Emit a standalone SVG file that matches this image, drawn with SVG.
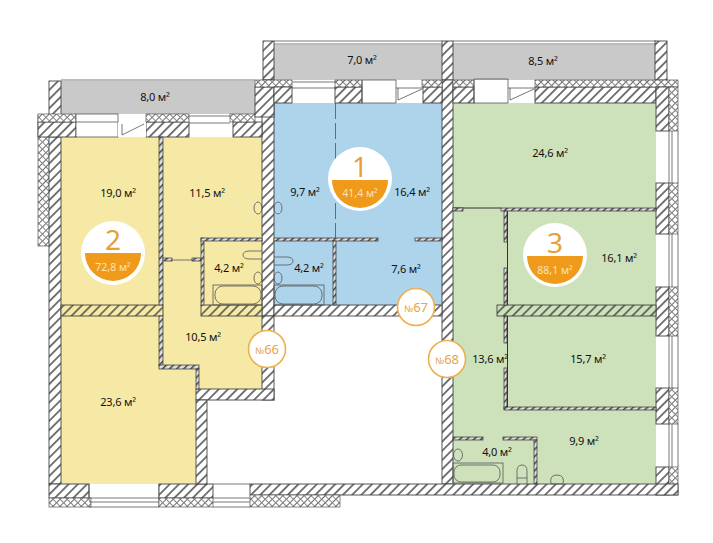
<svg xmlns="http://www.w3.org/2000/svg" width="713" height="543" viewBox="0 0 713 543">
<style>
.l{font-family:"Noto Sans","Open Sans",sans-serif;font-size:11px;fill:#111;text-anchor:middle;letter-spacing:-.2px}
.w{fill:url(#h);stroke:#444;stroke-width:.9}
.wy{fill:url(#hy);stroke:#444;stroke-width:.9}
.wg{fill:url(#hg);stroke:#444;stroke-width:.9}
.b{fill:url(#br);stroke:#555;stroke-width:.7}
.t{fill:url(#th);stroke:#333;stroke-width:.7}
.g{fill:#fff;stroke:#555;stroke-width:.8}
.f{fill:none;stroke:#555;stroke-width:.8}
.n{fill:#fff;stroke:#ecb04e;stroke-width:1.6}
.nt{font-family:"Noto Sans","Open Sans",sans-serif;fill:#e7a445;text-anchor:middle}
.big{font-family:"Noto Sans","Open Sans",sans-serif;font-size:28px;fill:#e8a035;text-anchor:middle}
.ar{font-family:"Noto Sans","Open Sans",sans-serif;font-size:10.500px;fill:#fbe3b8;text-anchor:middle}
</style>
<defs>
<pattern id="h" width="6.500" height="6.500" patternUnits="userSpaceOnUse" patternTransform="rotate(45)"><rect width="6.500" height="6.500" fill="#fff"/><rect width="1.800" height="6.500" fill="#6a6a6a"/></pattern>
<pattern id="hy" width="6.500" height="6.500" patternUnits="userSpaceOnUse" patternTransform="rotate(45)"><rect width="6.500" height="6.500" fill="#f5e9a5"/><rect width="1.800" height="6.500" fill="#6a6a5a"/></pattern>
<pattern id="hg" width="6.500" height="6.500" patternUnits="userSpaceOnUse" patternTransform="rotate(45)"><rect width="6.500" height="6.500" fill="#cde1ba"/><rect width="1.800" height="6.500" fill="#5a6a5a"/></pattern>
<pattern id="th" width="5" height="5" patternUnits="userSpaceOnUse" patternTransform="rotate(45)"><rect width="5" height="5" fill="#ddd"/><rect width="1.500" height="5" fill="#444"/></pattern>
<pattern id="br" width="5" height="5" patternUnits="userSpaceOnUse" patternTransform="rotate(45)"><rect width="5" height="5" fill="#fff"/><rect width="1" height="5" fill="#666"/><rect width="5" height="1" fill="#888"/></pattern>
</defs>
<rect width="713" height="543" fill="#fff"/>
<!-- balconies -->
<rect x="61" y="81" width="194" height="33" fill="#c9c9c9"/>
<rect x="274" y="45" width="168" height="35" fill="#c9c9c9"/>
<rect x="453" y="45" width="203" height="35" fill="#c9c9c9"/>
<path class="f" d="M61 80H255M274 41H442M274 44H442M453 41H656M453 44H656" stroke-width="1"/>
<!-- rooms -->
<path fill="#f5e9a5" d="M61 137H262V389H196V484H61Z"/>
<rect x="274" y="103" width="168" height="202" fill="#aed4ec"/>
<rect x="453" y="103" width="203" height="381" fill="#cde1ba"/>
<!-- outer walls -->
<g id="walls">
<rect class="w" x="49" y="81" width="12" height="34"/>
<rect class="w" x="263" y="41" width="11" height="39"/>
<rect class="w" x="442" y="41" width="11" height="39"/>
<rect class="w" x="655" y="41" width="12" height="39"/>
<rect class="b" x="38" y="115" width="12" height="131"/>
<rect class="w" x="49" y="137" width="12" height="347"/>
<rect class="w" x="262" y="80" width="12" height="236"/>
<rect class="w" x="262" y="316" width="12" height="84"/>
<rect class="w" x="442" y="80" width="11" height="404"/>
<!-- top, yellow -->
<rect class="w" x="38" y="122" width="38" height="15"/>
<rect class="w" x="146" y="122" width="43" height="15"/>
<rect class="w" x="233" y="122" width="29" height="15"/>
<rect class="b" x="38" y="114" width="38" height="8"/>
<rect class="b" x="146" y="114" width="43" height="8"/>
<rect class="b" x="230" y="114" width="25" height="8"/>
<rect class="g" x="76" y="114" width="42" height="23"/>
<rect x="118" y="122" width="28" height="15" fill="#fff"/>
<path class="f" d="M76 122H118M189 116H230M189 123H230M122 135L144 124M122 124V135"/>
<rect class="w" x="255" y="87" width="19" height="30"/>
<rect class="b" x="255" y="80" width="37" height="7"/>
<!-- top, blue -->
<rect class="w" x="274" y="87" width="18" height="16"/>
<rect class="w" x="335" y="87" width="27" height="16"/>
<rect class="b" x="335" y="80" width="27" height="7"/>
<path class="f" d="M292 82H335M292 88H335M362 80H396V103H362ZM396 88H423M398 100L422 89M398 88V100"/>
<rect class="w" x="423" y="87" width="19" height="16"/>
<rect class="b" x="422" y="80" width="20" height="7"/>
<!-- top, green -->
<rect class="w" x="453" y="87" width="21" height="16"/>
<rect class="b" x="453" y="80" width="21" height="7"/>
<path class="f" d="M474 79H508V103H474ZM508 88H535M510 100L534 89M510 88V100"/>
<rect class="w" x="535" y="87" width="121" height="16"/>
<rect class="b" x="535" y="80" width="143" height="7"/>
<!-- right wall -->
<rect class="w" x="656" y="87" width="13" height="44"/>
<rect class="b" x="669" y="87" width="9" height="44"/>
<rect class="w" x="656" y="183" width="13" height="51"/>
<rect class="b" x="669" y="183" width="9" height="51"/>
<rect class="w" x="656" y="287" width="13" height="49"/>
<rect class="b" x="669" y="287" width="9" height="49"/>
<rect class="w" x="656" y="388" width="13" height="36"/>
<rect class="b" x="669" y="388" width="9" height="36"/>
<rect class="w" x="656" y="467" width="13" height="28"/>
<rect class="b" x="669" y="467" width="9" height="28"/>
<path class="f" d="M669 131V183M678 131V183M672 131V183M669 234V287M678 234V287M672 234V287M669 336V388M678 336V388M672 336V388M669 424V467M678 424V467M672 424V467"/>
<!-- bottom wall -->
<rect class="w" x="49" y="484" width="40" height="14"/>
<rect class="b" x="49" y="498" width="42" height="9"/>
<path class="f" d="M89 484V498M89 498H159M89 502H159M89 507H159M159 484V507"/>
<rect class="w" x="159" y="484" width="54" height="14"/>
<rect class="b" x="159" y="498" width="54" height="9"/>
<path class="f" d="M213 484H250M213 498H250M213 502H250M213 507H250"/>
<rect class="w" x="250" y="484" width="428" height="11"/>
<rect class="b" x="250" y="495" width="90" height="12"/>
<!-- inner bearing walls -->
<rect class="wy" x="61" y="305" width="102" height="11"/>
<rect class="wy" x="201" y="305" width="61" height="11"/>
<rect class="w" x="274" y="305" width="168" height="11"/>
<rect class="w" x="196" y="389" width="78" height="11"/>
<rect class="w" x="196" y="400" width="11" height="84"/>
<rect class="wg" x="497" y="305" width="159" height="11"/>
</g>
<!-- thin partitions -->
<g id="partitions">
<rect class="t" x="159" y="137" width="4" height="168"/>
<rect class="t" x="159" y="316" width="4" height="50"/>
<rect class="t" x="159" y="365" width="40" height="4"/>
<rect class="t" x="196" y="369" width="3" height="20"/>
<path d="M163 260H201" stroke="#555" stroke-width=".8"/>
<rect class="t" x="163" y="258" width="9" height="3"/>
<rect class="t" x="192" y="258" width="9" height="3"/>
<rect class="t" x="201" y="238" width="3" height="67"/>
<rect class="t" x="201" y="238" width="61" height="3"/>
<rect class="t" x="274" y="238" width="104" height="3"/>
<rect class="t" x="415" y="238" width="27" height="3"/>
<rect class="t" x="333" y="241" width="3" height="64"/>
<path d="M335.500 103V238" stroke="#456" stroke-width=".8" stroke-dasharray="16 4" fill="none"/>
<path d="M453 208H501" stroke="#333" stroke-width="1"/>
<rect class="t" x="453" y="208" width="10" height="3"/>
<rect class="t" x="501" y="208" width="155" height="3"/>
<rect class="t" x="504" y="211" width="3" height="31"/>
<rect class="t" x="504" y="268" width="3" height="37"/>
<rect class="t" x="504" y="316" width="3" height="27"/>
<rect class="t" x="504" y="368" width="3" height="41"/>
<rect class="t" x="504" y="407" width="152" height="3"/>
<rect class="t" x="453" y="437" width="30" height="3"/>
<rect class="t" x="503" y="437" width="34" height="3"/>
<rect class="t" x="534" y="440" width="3" height="44"/>
<path d="M507.500 211V305M507.500 316V407" stroke="#333" stroke-width="1"/>
</g>
<!-- fixtures -->
<g id="fixtures" fill="none" stroke="#555" stroke-width=".8">
<rect x="213" y="285" width="49" height="20"/><rect x="215" y="286" width="46" height="18" rx="8"/>
<rect x="274" y="285" width="50" height="20"/><rect x="275" y="286" width="47" height="18" rx="8"/>
<ellipse cx="258" cy="208" rx="4" ry="6"/><ellipse cx="278" cy="208" rx="4" ry="6"/>
<ellipse cx="258" cy="278" rx="4" ry="6"/><ellipse cx="278" cy="278" rx="4" ry="6"/>
<path d="M262 251H250Q243 251 243 255Q243 259 250 259H262M274 257H286Q293 257 293 261Q293 265 286 265H274"/>
<rect x="453" y="463" width="50" height="20"/><rect x="454" y="465" width="46" height="17" rx="7"/>
<ellipse cx="458" cy="455" rx="4.500" ry="6"/>
<path d="M517 484V471Q517 465 522 465Q527 465 527 471V484M517 478H527M551 484Q549 475 557 475Q565 475 563 484Z"/>
</g>
<!-- labels -->
<g id="labels">
<text class="l" x="155" y="101">8,0 м²</text>
<text class="l" x="362" y="64">7,0 м²</text>
<text class="l" x="543" y="65">8,5 м²</text>
<text class="l" x="118" y="197">19,0 м²</text>
<text class="l" x="207" y="197">11,5 м²</text>
<text class="l" x="305" y="196">9,7 м²</text>
<text class="l" x="412" y="196">16,4 м²</text>
<text class="l" x="229" y="272">4,2 м²</text>
<text class="l" x="309" y="272">4,2 м²</text>
<text class="l" x="406" y="273">7,6 м²</text>
<text class="l" x="550" y="157">24,6 м²</text>
<text class="l" x="619" y="262">16,1 м²</text>
<text class="l" x="203" y="341">10,5 м²</text>
<text class="l" x="118" y="406">23,6 м²</text>
<text class="l" x="490" y="363">13,6 м²</text>
<text class="l" x="588" y="363">15,7 м²</text>
<text class="l" x="584" y="445">9,9 м²</text>
<text class="l" x="497" y="456">4,0 м²</text>
</g>
<!-- badges -->
<g id="badge-1">
<circle cx="360" cy="179" r="32" fill="#fff"/>
<path fill="#ef9a1b" d="M332 180H388A28 28 0 0 1 332 180Z"/>
<text class="big" x="360" y="177">1</text>
<text class="ar" x="360" y="197">41,4 м²</text>
</g>
<g id="badge-2">
<circle cx="113" cy="253" r="32" fill="#fff"/>
<path fill="#ef9a1b" d="M85 253H141A28 28 0 0 1 85 253Z"/>
<text class="big" x="113" y="250">2</text>
<text class="ar" x="113" y="271">72,8 м²</text>
</g>
<g id="badge-3">
<circle cx="555" cy="255" r="32" fill="#fff"/>
<path fill="#ef9a1b" d="M527 256H583A28 28 0 0 1 527 256Z"/>
<text class="big" x="555" y="253">3</text>
<text class="ar" x="555" y="274">88,1 м²</text>
</g>
<g id="no-66"><circle class="n" cx="267" cy="349" r="18.500"/><text class="nt" x="267" y="354" font-size="13"><tspan font-size="9">№</tspan>66</text></g>
<g id="no-67"><circle class="n" cx="416" cy="307" r="18.500"/><text class="nt" x="416" y="312" font-size="13"><tspan font-size="9">№</tspan>67</text></g>
<g id="no-68"><circle class="n" cx="447" cy="359" r="18.500"/><text class="nt" x="447" y="364" font-size="13"><tspan font-size="9">№</tspan>68</text></g>
</svg>
